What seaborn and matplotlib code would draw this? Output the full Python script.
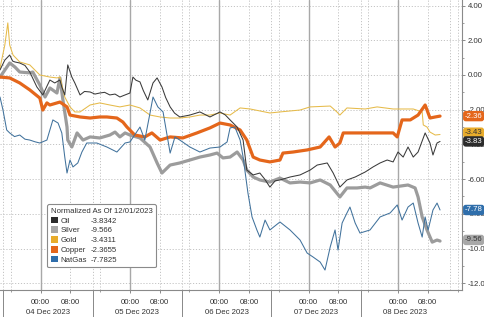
import matplotlib
matplotlib.use("Agg")
import matplotlib.pyplot as plt
import matplotlib.transforms as mtransforms
from matplotlib.patches import Patch
from matplotlib.ticker import FixedLocator, MultipleLocator, FuncFormatter
import seaborn as sns

# ---------------- data (hours since 04 Dec 2023 00:00, normalized value) ----------------
oil_points = [(-10.9, 0.29), (-9.6, 0.86), (-8.3, 1.15), (-7.5, 0.80), (-6.9, 0.75), (-5.6, 0.69),
              (-4.2, 0.55), (-2.9, 0.17), (-1.0, -0.69), (0.6, -1.15), (2.5, -0.29), (3.8, -0.46),
              (5.2, -0.29), (5.7, -0.69), (6.5, -1.15), (7.3, 0.58), (8.4, -0.12), (9.2, -0.46),
              (10.6, -1.15), (11.8, -0.95), (13.3, -0.98), (14.6, -1.10), (15.9, -1.04), (17.2, -1.00),
              (18.6, -1.15), (20.0, -1.10), (21.3, -1.27), (22.7, -1.15), (24.0, -1.04), (24.8, -0.12),
              (25.6, -0.30), (26.7, -0.40), (27.6, -0.90), (28.8, -1.44), (30.2, -0.46), (31.3, -0.17),
              (32.6, -0.69), (33.6, -1.30), (34.8, -1.84), (36.0, -2.20), (37.4, -2.42), (40.1, -2.31),
              (42.8, -2.13), (45.5, -2.42), (48.2, -2.13), (49.6, -2.30), (50.9, -2.59), (52.8, -3.00),
              (54.4, -3.75), (55.4, -5.48), (57.1, -5.76), (58.9, -5.65), (60.2, -6.00), (61.6, -6.46),
              (63.0, -6.10), (64.3, -6.05), (67.0, -5.88), (69.7, -5.76), (72.4, -5.48), (74.3, -5.19),
              (77.0, -5.07), (78.6, -5.65), (80.4, -6.46), (82.3, -6.05), (84.5, -5.88), (87.2, -5.59),
              (89.3, -5.30), (91.2, -5.07), (93.1, -4.90), (94.7, -5.01), (96.0, -4.44), (97.4, -4.73),
              (98.7, -4.15), (100.1, -4.73), (101.4, -4.44), (103.3, -3.34), (104.6, -3.92),
              (105.4, -4.61), (106.5, -3.92), (107.3, -3.83)]

silver_points = [(-10.9, -0.12), (-8.3, 0.69), (-6.9, 0.46), (-5.6, 0.17), (-2.9, 0.12), (-2.1, 0.17),
                 (-0.2, -0.58), (1.2, -1.27), (2.5, -0.75), (4.4, -1.04), (5.2, -0.17), (6.0, -1.44),
                 (7.1, -3.00), (7.3, -3.75), (8.4, -4.15), (9.8, -3.34), (11.4, -3.75), (13.3, -3.57),
                 (15.9, -3.63), (18.6, -3.46), (20.0, -3.29), (21.3, -3.57), (22.7, -3.34), (24.0, -3.46),
                 (26.7, -3.63), (29.4, -4.15), (31.3, -5.07), (32.6, -5.65), (34.8, -5.19), (37.4, -5.07),
                 (40.1, -4.90), (42.8, -4.73), (45.5, -4.61), (47.4, -4.50), (49.0, -4.78), (50.9, -4.73),
                 (52.8, -4.44), (54.4, -4.90), (55.4, -5.48), (57.1, -5.88), (58.9, -6.05), (61.6, -6.17),
                 (64.3, -5.94), (67.0, -6.22), (69.7, -6.17), (72.4, -6.22), (75.1, -6.05), (77.8, -6.34),
                 (80.4, -7.03), (82.3, -6.51), (85.0, -6.51), (87.2, -6.46), (88.5, -6.51), (91.2, -6.22),
                 (94.7, -6.46), (98.7, -6.34), (100.6, -6.51), (101.4, -7.03), (102.5, -8.18),
                 (103.8, -8.93), (105.2, -9.63), (106.5, -9.51), (107.3, -9.57)]

gold_points = [(-10.9, 0.40), (-9.6, 1.73), (-8.8, 3.00), (-8.3, 1.73), (-7.4, 1.15), (-5.6, 0.75),
               (-2.9, 0.58), (-0.2, 0.00), (2.5, -0.12), (4.4, -0.17), (5.2, -0.12), (6.5, -1.27),
               (7.9, -1.84), (9.2, -2.13), (10.6, -2.13), (13.3, -1.73), (15.9, -1.61), (18.6, -1.73),
               (21.3, -1.84), (24.0, -1.73), (26.7, -1.90), (29.4, -2.31), (32.1, -2.42), (34.8, -2.48),
               (37.4, -2.48), (40.1, -2.42), (42.8, -2.31), (45.5, -2.31), (48.2, -2.19), (50.9, -2.31),
               (53.6, -1.90), (56.3, -1.96), (61.6, -2.19), (64.3, -2.13), (69.7, -2.02), (72.4, -1.84),
               (77.8, -1.79), (79.6, -2.13), (80.4, -2.31), (82.3, -1.90), (87.2, -1.96), (90.4, -1.84),
               (94.7, -1.96), (100.1, -1.96), (102.5, -2.13), (102.8, -2.88), (103.8, -3.00),
               (104.6, -3.29), (106.0, -3.46), (107.3, -3.43)]

copper_points = [(-10.9, -0.12), (-8.3, -0.17), (-5.6, -0.46), (-2.9, -0.86), (-0.2, -1.33), (0.6, -2.02),
                 (1.7, -1.61), (2.5, -1.73), (5.2, -1.56), (7.1, -1.84), (7.9, -2.31), (10.6, -2.42),
                 (13.3, -2.48), (15.9, -2.42), (17.8, -2.42), (20.5, -2.48), (22.1, -2.71), (23.2, -3.00),
                 (25.3, -3.46), (28.0, -3.57), (29.9, -3.34), (32.1, -3.75), (34.8, -3.57), (38.2, -3.63),
                 (42.0, -3.34), (45.5, -3.05), (48.2, -2.77), (50.9, -2.88), (53.6, -3.17), (55.4, -3.75),
                 (57.1, -4.73), (58.9, -4.90), (61.6, -5.01), (64.3, -4.90), (65.1, -4.50), (67.8, -4.44),
                 (71.6, -4.32), (75.1, -4.15), (77.5, -3.57), (79.1, -4.15), (80.4, -3.92), (81.3, -3.34),
                 (83.9, -3.34), (87.2, -3.34), (91.2, -3.34), (94.7, -3.34), (95.8, -3.57), (97.1, -2.59),
                 (99.3, -2.59), (101.4, -2.31), (103.3, -1.73), (104.6, -2.48), (106.0, -2.42),
                 (107.3, -2.37)]

natgas_points = [(-10.9, -1.27), (-10.1, -2.02), (-9.1, -3.17), (-8.3, -3.34), (-7.0, -3.55), (-5.6, -3.46),
                 (-4.2, -3.70), (-2.9, -3.75), (-1.5, -3.85), (-0.2, -3.92), (1.7, -3.75), (3.3, -2.59),
                 (4.7, -2.77), (5.7, -3.34), (6.5, -4.73), (7.1, -5.65), (7.9, -4.90), (8.7, -5.30),
                 (10.0, -5.07), (11.1, -4.44), (12.4, -3.92), (15.1, -3.92), (17.8, -4.15), (20.5, -4.44),
                 (22.7, -3.92), (24.0, -3.86), (26.7, -3.00), (28.0, -3.75), (29.4, -2.19), (30.2, -1.27),
                 (31.5, -1.84), (32.9, -2.13), (34.8, -4.50), (36.1, -3.57), (37.4, -3.75), (40.1, -4.15),
                 (42.8, -4.44), (45.5, -4.21), (48.2, -4.15), (50.1, -3.86), (50.9, -3.05), (52.2, -3.00),
                 (53.6, -3.75), (54.4, -4.73), (55.7, -6.80), (56.8, -8.18), (58.1, -8.93), (58.9, -9.34),
                 (60.3, -8.36), (61.6, -8.93), (64.3, -8.47), (67.0, -8.93), (69.7, -9.51), (71.6, -10.26),
                 (73.2, -10.49), (75.1, -10.78), (76.4, -11.24), (77.8, -9.91), (79.1, -8.93),
                 (79.9, -10.09), (81.0, -8.53), (82.3, -7.95), (83.1, -7.61), (84.5, -8.53), (85.8, -9.11),
                 (88.5, -8.93), (91.2, -8.18), (93.9, -7.95), (95.8, -7.49), (97.1, -8.36), (98.7, -7.61),
                 (100.1, -7.38), (101.4, -8.53), (102.5, -9.34), (103.3, -8.18), (104.1, -8.93),
                 (105.4, -7.78), (106.5, -7.38), (107.3, -7.78)]

series_names = ["Oil", "Silver", "Gold", "Copper", "NatGas"]
legend_values = ["-3.8342", "-9.566", "-3.4311", "-2.3655", "-7.7825"]
tag_texts = ["-3.83", "-9.56", "-3.43", "-2.36", "-7.78"]
legend_title = "Normalized As Of 12/01/2023"
day_labels = ["04 Dec 2023", "05 Dec 2023", "06 Dec 2023", "07 Dec 2023", "08 Dec 2023"]
time_tick_labels = ["00:00", "08:00"]
y_ticks = [4, 2, 0, -2, -4, -6, -8, -10, -12]
y_tick_labels = ["4.00", "2.00", "0.00", "-2.00", "-4.00", "-6.00", "-8.00", "-10.0", "-12.0"]

# ---------------- styling ----------------
sns.set_theme(style="white")
plt.rcParams["font.family"] = ["Liberation Sans", "DejaVu Sans"]
FS = 5.6

line_colors = {"Oil": "#3a3a3a", "Silver": "#9c9c9c", "Gold": "#e6bb4a",
               "Copper": "#e4661b", "NatGas": "#41729c"}
box_colors = {"Oil": "#2b2b2b", "Silver": "#a8a8a8", "Gold": "#e8ac2c",
              "Copper": "#e4661b", "NatGas": "#2f6eab"}
box_text = {"Oil": "white", "Silver": "#333333", "Gold": "#333333",
            "Copper": "white", "NatGas": "white"}
widths = {"Oil": 0.75, "Silver": 2.3, "Gold": 0.75, "Copper": 2.3, "NatGas": 0.75}
series = {"Oil": oil_points, "Silver": silver_points, "Gold": gold_points,
          "Copper": copper_points, "NatGas": natgas_points}
draw_order = ["Silver", "Gold", "Copper", "Oil", "NatGas"]

W, H = 485, 317
fig = plt.figure(figsize=(W / 100, H / 100), dpi=100)
fig.patch.set_facecolor("white")
ax = fig.add_axes([0, (H - 290) / H, 462 / W, 290 / H])
ax.set_facecolor("white")

# grid
for yv in y_ticks:
    ax.axhline(yv, color="#c4c4c4", lw=0.7, ls=(0, (1.2, 1.8)), zorder=0)
for d in range(-1, 5):
    for hh in (8, 14, 16):
        xv = d * 24 + hh
        if -10.9 < xv < 113:
            ax.axvline(xv, color="#c4c4c4", lw=0.7, ls=(0, (1.2, 1.8)), zorder=0)
    if d >= 0:
        ax.axvline(d * 24, color="#a8a8a8", lw=1.0, zorder=0)

# lines
for name in draw_order:
    hrs = [p[0] for p in series[name]]
    vals = [p[1] for p in series[name]]
    sns.lineplot(x=hrs, y=vals, ax=ax, color=line_colors[name], linewidth=widths[name],
                 sort=False, legend=False, zorder=3)

ax.set_xlim(-10.9, 113.2)
ax.set_ylim(-12.39, 4.32)
ax.set_xlabel("")
ax.set_ylabel("")

# x axis
major_x = []
major_lab = []
for d in range(5):
    for i, hh in enumerate((0, 8)):
        major_x.append(d * 24 + hh)
        major_lab.append(time_tick_labels[i])
ax.xaxis.set_major_locator(FixedLocator(major_x))
ax.set_xticklabels(major_lab)
ax.xaxis.set_minor_locator(FixedLocator([d * 24 + 16 for d in range(-1, 5)]))
ax.tick_params(axis="x", which="major", direction="out", length=2.2, width=0.6, color="#777777",
               labelsize=FS, labelcolor="#333333", pad=4.6, bottom=True)
ax.tick_params(axis="x", which="minor", direction="out", length=1.5, width=0.5, color="#777777",
               bottom=True)

trans = mtransforms.blended_transform_factory(ax.transData, ax.transAxes)
for d, lab in enumerate(day_labels):
    ax.text(d * 24 + 2.0, -0.079, lab, transform=trans, ha="center", va="center",
            fontsize=FS, color="#333333", clip_on=False)
for d in range(-1, 4):
    ax.axvline(d * 24 + 14, ymin=-0.095, ymax=0, color="#888888", lw=0.7, clip_on=False)

# y axis on the right
ax.yaxis.tick_right()
ax.yaxis.set_major_locator(FixedLocator(y_ticks))
ax.set_yticklabels(y_tick_labels)
ax.yaxis.set_minor_locator(MultipleLocator(1))
ax.tick_params(axis="y", which="major", direction="out", length=2.5, width=0.6, color="#777777",
               labelsize=FS, labelcolor="#333333", pad=1.5, right=True, left=False)
ax.tick_params(axis="y", which="minor", direction="out", length=1.5, width=0.5, color="#777777",
               right=True, left=False)

for s in ("left", "top"):
    ax.spines[s].set_visible(False)
for s in ("right", "bottom"):
    ax.spines[s].set_visible(True)
    ax.spines[s].set_color("#8a8a8a")
    ax.spines[s].set_linewidth(0.8)

# end-value tags at the right edge
label_order = ["Copper", "Gold", "Oil", "NatGas", "Silver"]
nudge = {"Copper": 0, "Gold": 1.3, "Oil": 0, "NatGas": 0, "Silver": 0.8}
for name in label_order:
    idx = series_names.index(name)
    last_v = series[name][-1][1]
    ax.annotate(tag_texts[idx], xy=(1.0, last_v), xycoords=("axes fraction", "data"),
                xytext=(2.0, nudge[name]), textcoords="offset points", ha="left", va="center",
                fontsize=FS, color=box_text[name], annotation_clip=False, zorder=10,
                bbox=dict(boxstyle="round,pad=0.22,rounding_size=0.35", fc=box_colors[name], ec="none"))

# legend
handles = [Patch(facecolor=box_colors[n], edgecolor="none") for n in series_names]
leg = ax.legend(handles, series_names, title=legend_title, loc="lower left",
                bbox_to_anchor=(0.102, 0.079), borderaxespad=0, fontsize=FS, title_fontsize=FS,
                handlelength=0.95, handleheight=0.95, handletextpad=0.3, labelspacing=0.22,
                borderpad=0.45, frameon=True, fancybox=True, framealpha=1, alignment="left")
leg.get_frame().set_edgecolor("#8a8a8a")
leg.get_frame().set_linewidth(0.8)
leg.get_title().set_color("#333333")
for t in leg.get_texts():
    t.set_color("#333333")
leg.set_zorder(20)

fig.canvas.draw()
renderer = fig.canvas.get_renderer()
for t, val in zip(leg.get_texts(), legend_values):
    bb = t.get_window_extent(renderer)
    yc = (bb.y0 + bb.y1) / 2
    fig.text(91 / W, yc / fig.bbox.height, val, ha="left", va="center", fontsize=FS,
             color="#333333", zorder=30)

fig.savefig("out.png", dpi=100, facecolor="white")
